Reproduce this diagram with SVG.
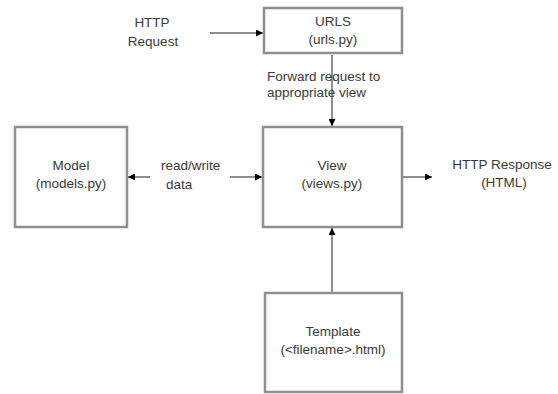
<svg xmlns="http://www.w3.org/2000/svg" width="558" height="394" viewBox="0 0 558 394">
<style>
.box{fill:#fff;stroke:#8f8f8f;stroke-width:2.5}
.t{font-family:"Liberation Sans",Arial,sans-serif;font-size:13.5px;fill:#3a3a3a}
.c{text-anchor:middle}
.ln{stroke:#8f8f8f;stroke-width:2;fill:none}
</style>
<defs>
<marker id="ah" viewBox="0 0 10 10" refX="10" refY="5" markerWidth="3.5" markerHeight="3.5" orient="auto-start-reverse" markerUnits="strokeWidth">
<path d="M0,0 L10,5 L0,10 z" fill="#000"/>
</marker>
</defs>
<rect width="558" height="394" fill="#fff"/>
<g id="connectors">
<line class="ln" x1="210" y1="33" x2="263" y2="33" marker-end="url(#ah)"/>
<line class="ln" x1="332" y1="55" x2="332" y2="126" marker-end="url(#ah)"/>
<line class="ln" x1="150" y1="177" x2="128" y2="177" marker-end="url(#ah)"/>
<line class="ln" x1="230" y1="177" x2="262" y2="177" marker-end="url(#ah)"/>
<line class="ln" x1="402" y1="177" x2="432" y2="177" marker-end="url(#ah)"/>
<line class="ln" x1="332" y1="293" x2="332" y2="228" marker-end="url(#ah)"/>
<text class="t" x="267" y="81">Forward request to</text>
<text class="t" x="267" y="97">appropriate view</text>
<text class="t" x="161" y="170">read/write</text>
<text class="t" x="166" y="189">data</text>
</g>
<g id="http-request">
<text class="t c" x="152" y="27">HTTP</text>
<text class="t c" x="153" y="46">Request</text>
</g>
<g id="urls">
<rect class="box" x="264" y="8" width="138" height="45"/>
<text class="t c" x="333" y="26">URLS</text>
<text class="t c" x="333" y="44">(urls.py)</text>
</g>
<g id="model">
<rect class="box" x="15" y="127" width="112" height="100"/>
<text class="t c" x="71" y="170">Model</text>
<text class="t c" x="71" y="188">(models.py)</text>
</g>
<g id="view">
<rect class="box" x="263" y="127" width="139" height="100"/>
<text class="t c" x="332" y="170">View</text>
<text class="t c" x="332" y="188">(views.py)</text>
</g>
<g id="http-response">
<text class="t c" x="502" y="169">HTTP Response</text>
<text class="t c" x="504" y="187">(HTML)</text>
</g>
<g id="template">
<rect class="box" x="265" y="293" width="137" height="99"/>
<text class="t c" x="333" y="336">Template</text>
<text class="t c" x="333" y="354">(&lt;filename&gt;.html)</text>
</g>
</svg>
